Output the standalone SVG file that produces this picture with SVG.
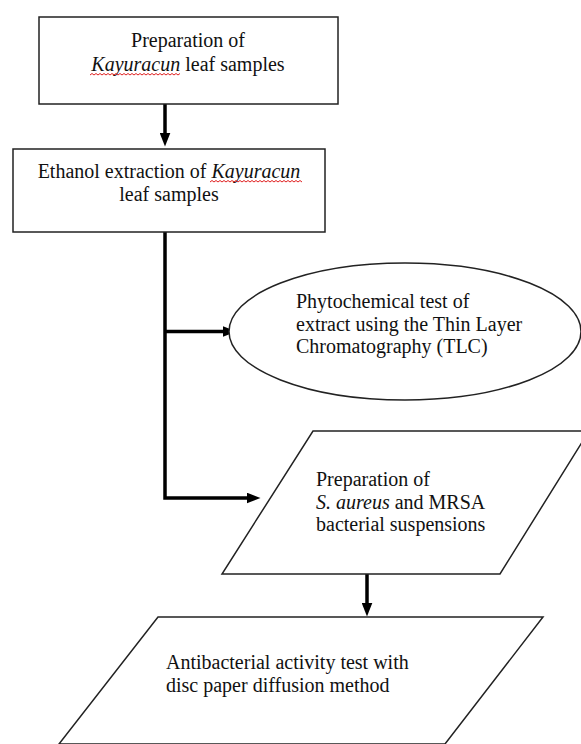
<svg xmlns="http://www.w3.org/2000/svg" width="581" height="744" viewBox="0 0 581 744">
<style>
.shape{fill:#fff;stroke:#222;stroke-width:1.5}
.conn{fill:none;stroke:#000;stroke-width:3.5}
text{font-family:"Liberation Serif","Times New Roman",serif;font-size:20px;fill:#111}
.it{font-style:italic}
.wave{fill:none;stroke:#e02020;stroke-width:1}
</style>
<defs>
<marker id="ah" viewBox="0 0 14 11" markerWidth="14" markerHeight="11" markerUnits="userSpaceOnUse" refX="0.5" refY="5.5" orient="auto">
<path d="M0,0 L14,5.5 L0,11 Z" fill="#000"/>
</marker>
</defs>
<rect width="581" height="744" fill="#fff"/>
<g id="connectors">
<path class="conn" d="M165,104 V133" marker-end="url(#ah)"/>
<path class="conn" d="M165,232 V498 H247" marker-end="url(#ah)"/>
<path class="conn" d="M165,331.5 H223" marker-end="url(#ah)"/>
<path class="conn" d="M367,574 V603" marker-end="url(#ah)"/>
</g>
<g id="node1">
<rect class="shape" x="39" y="17" width="299" height="87"/>
<text x="188" y="47" text-anchor="middle">Preparation of</text>
<text x="188" y="71" text-anchor="middle"><tspan class="it">Kayuracun</tspan> leaf samples</text>
<path class="wave" d="M90,75 l2,-1.5 l2,1.5 l2,-1.5 l2,1.5 l2,-1.5 l2,1.5 l2,-1.5 l2,1.5 l2,-1.5 l2,1.5 l2,-1.5 l2,1.5 l2,-1.5 l2,1.5 l2,-1.5 l2,1.5 l2,-1.5 l2,1.5 l2,-1.5 l2,1.5 l2,-1.5 l2,1.5 l2,-1.5 l2,1.5 l2,-1.5 l2,1.5 l2,-1.5 l2,1.5 l2,-1.5 l2,1.5 l2,-1.5 l2,1.5 l2,-1.5 l2,1.5 l2,-1.5 l2,1.5 l2,-1.5 l2,1.5 l2,-1.5 l2,1.5 l2,-1.5 l2,1.5 l2,-1.5 l2,1.5 l2,-1.5"/>
</g>
<g id="node2">
<rect class="shape" x="13" y="149" width="312" height="83"/>
<text x="169" y="178" text-anchor="middle">Ethanol extraction of <tspan class="it">Kayuracun</tspan></text>
<text x="169" y="201" text-anchor="middle">leaf samples</text>
<path class="wave" d="M210,182 l2,-1.5 l2,1.5 l2,-1.5 l2,1.5 l2,-1.5 l2,1.5 l2,-1.5 l2,1.5 l2,-1.5 l2,1.5 l2,-1.5 l2,1.5 l2,-1.5 l2,1.5 l2,-1.5 l2,1.5 l2,-1.5 l2,1.5 l2,-1.5 l2,1.5 l2,-1.5 l2,1.5 l2,-1.5 l2,1.5 l2,-1.5 l2,1.5 l2,-1.5 l2,1.5 l2,-1.5 l2,1.5 l2,-1.5 l2,1.5 l2,-1.5 l2,1.5 l2,-1.5 l2,1.5 l2,-1.5 l2,1.5 l2,-1.5 l2,1.5 l2,-1.5 l2,1.5 l2,-1.5 l2,1.5 l2,-1.5 l2,1.5"/>
</g>
<g id="node3">
<ellipse class="shape" cx="405" cy="331.5" rx="176" ry="68.5"/>
<text x="296" y="308">Phytochemical test of</text>
<text x="296" y="330.5">extract using the Thin Layer</text>
<text x="296" y="353">Chromatography (TLC)</text>
</g>
<g id="node4">
<polygon class="shape" points="313,431 589,431 500,574 222,574"/>
<text x="316" y="486">Preparation of</text>
<text x="316" y="508.5"><tspan class="it">S. aureus</tspan> and MRSA</text>
<text x="316" y="531">bacterial suspensions</text>
</g>
<g id="node5">
<polygon class="shape" points="158,617 543,617 445,744 59,744"/>
<text x="166" y="669">Antibacterial activity test with</text>
<text x="166" y="692">disc paper diffusion method</text>
</g>
</svg>
